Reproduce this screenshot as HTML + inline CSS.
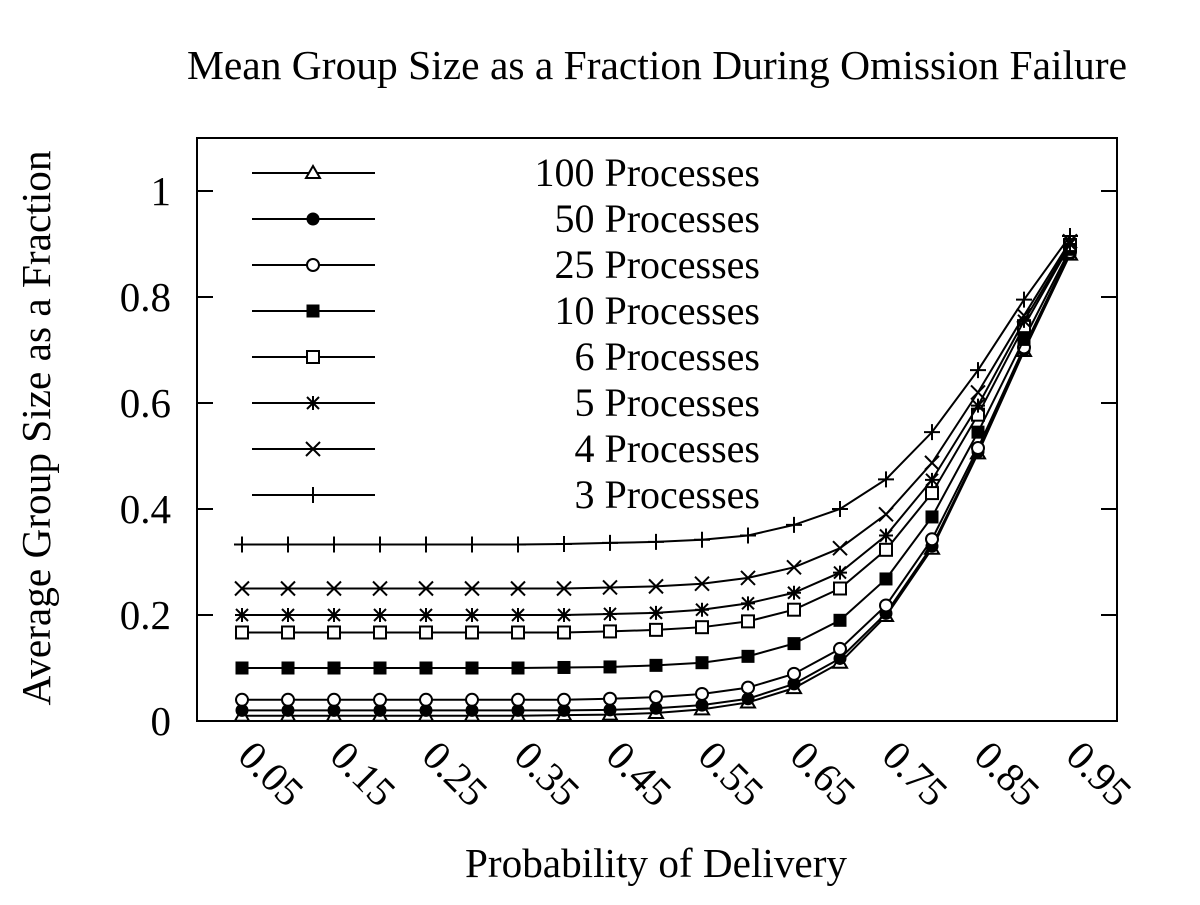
<!DOCTYPE html>
<html><head><meta charset="utf-8"><style>
html,body{margin:0;padding:0;background:#fff}
svg text{font-family:"Liberation Serif",serif;fill:#000}
</style></head><body>
<svg id="chart" width="1200" height="900" viewBox="0 0 1200 900" xmlns="http://www.w3.org/2000/svg">
<text x="187" y="79" font-size="41" textLength="940" lengthAdjust="spacingAndGlyphs">Mean Group Size as a Fraction During Omission Failure</text>
<text transform="translate(50,428) rotate(-90)" font-size="41" text-anchor="middle" textLength="555" lengthAdjust="spacingAndGlyphs">Average Group Size as a Fraction</text>
<text x="465" y="877" font-size="41" textLength="382" lengthAdjust="spacingAndGlyphs">Probability of Delivery</text>
<rect x="197" y="138" width="920" height="583" fill="none" stroke="#000" stroke-width="2"/>
<g id="axes"></g><g id="series"></g><g id="legend"></g>
</svg>
<script>
const xValues=[0.05,0.1,0.15,0.2,0.25,0.3,0.35,0.4,0.45,0.5,0.55,0.6,0.65,0.7,0.75,0.8,0.85,0.9,0.95];
const xTickLabels=["0.05","0.15","0.25","0.35","0.45","0.55","0.65","0.75","0.85","0.95"];
const yTickValues=[0,0.2,0.4,0.6,0.8,1];
const yTickLabels=["0","0.2","0.4","0.6","0.8","1"];
const seriesNames=["100 Processes","50 Processes","25 Processes","10 Processes","6 Processes","5 Processes","4 Processes","3 Processes"];
const markers=["triangle","circleFill","circle","squareFill","square","star","cross","plus"];
const s100=[0.01,0.01,0.01,0.01,0.01,0.01,0.01,0.011,0.012,0.015,0.022,0.035,0.062,0.11,0.198,0.325,0.505,0.698,0.88];
const s50=[0.02,0.02,0.02,0.02,0.02,0.02,0.02,0.02,0.021,0.024,0.03,0.042,0.07,0.118,0.203,0.33,0.508,0.7,0.882];
const s25=[0.04,0.04,0.04,0.04,0.04,0.04,0.04,0.04,0.042,0.045,0.051,0.063,0.089,0.136,0.218,0.343,0.515,0.705,0.885];
const s10=[0.1,0.1,0.1,0.1,0.1,0.1,0.1,0.101,0.102,0.105,0.11,0.122,0.146,0.19,0.268,0.385,0.545,0.72,0.89];
const s6=[0.167,0.167,0.167,0.167,0.167,0.167,0.167,0.167,0.169,0.172,0.177,0.188,0.21,0.25,0.323,0.43,0.578,0.745,0.898];
const s5=[0.2,0.2,0.2,0.2,0.2,0.2,0.2,0.2,0.202,0.204,0.21,0.222,0.242,0.28,0.35,0.455,0.595,0.755,0.9];
const s4=[0.25,0.25,0.25,0.25,0.25,0.25,0.25,0.25,0.252,0.254,0.259,0.27,0.29,0.326,0.39,0.487,0.62,0.765,0.905];
const s3=[0.333,0.333,0.333,0.333,0.333,0.333,0.333,0.334,0.336,0.338,0.342,0.35,0.37,0.40,0.456,0.545,0.662,0.795,0.915];
const allSeries=[s100,s50,s25,s10,s6,s5,s4,s3];

const NS="http://www.w3.org/2000/svg";
const X=v=>196+v*920;
const Y=v=>721-v*530;
function mk(tag,attrs,parent){const e=document.createElementNS(NS,tag);for(const k in attrs)e.setAttribute(k,attrs[k]);parent.appendChild(e);return e;}
const axes=document.getElementById('axes'),ser=document.getElementById('series'),leg=document.getElementById('legend');

yTickValues.forEach((v,i)=>{
  const y=Y(v);
  const t1=mk('line',{x1:197,x2:213,y1:y,y2:y,stroke:'#000','stroke-width':2},axes);
  
  
  const t2=mk('line',{x1:1101,x2:1117,y1:y,y2:y,stroke:'#000','stroke-width':2},axes);
  
  
  const tx=mk('text',{x:171,y:y+14,'font-size':41,'text-anchor':'end'},axes);
  tx.textContent=yTickLabels[i];
  
  
});
xTickLabels.forEach(l=>{
  const x=X(parseFloat(l));
  const tx=mk('text',{transform:`translate(${x-6},${758}) rotate(45)`,'font-size':41},axes);
  tx.textContent=l;
  
  
});

function marker(type,x,y,g){
  const st={stroke:'#000','stroke-width':2};
  let e;
  if(type==='triangle'){e=mk('polygon',Object.assign({points:`${x},${y-7} ${x-7},${y+5} ${x+7},${y+5}`,fill:'#fff'},st),g);}
  else if(type==='circleFill'){e=mk('circle',{cx:x,cy:y,r:6.5,fill:'#000'},g);}
  else if(type==='circle'){e=mk('circle',Object.assign({cx:x,cy:y,r:6,fill:'#fff'},st),g);}
  else if(type==='squareFill'){e=mk('rect',{x:x-6.5,y:y-6.5,width:13,height:13,fill:'#000'},g);}
  else if(type==='square'){e=mk('rect',Object.assign({x:x-6,y:y-6,width:12,height:12,fill:'#fff'},st),g);}
  else if(type==='star'){e=mk('path',Object.assign({d:`M${x-7},${y}H${x+7}M${x},${y-7}V${y+7}M${x-6},${y-6}L${x+6},${y+6}M${x-6},${y+6}L${x+6},${y-6}`},st),g);}
  else if(type==='cross'){e=mk('path',Object.assign({d:`M${x-7},${y-7}L${x+7},${y+7}M${x-7},${y+7}L${x+7},${y-7}`},st),g);}
  else {e=mk('path',Object.assign({d:`M${x-8},${y}H${x+8}M${x},${y-8}V${y+8}`},st),g);}
  
  
}

allSeries.forEach((vals,si)=>{
  const g=mk('g',{},ser);
  
  
  const d=vals.map((v,i)=>(i?'L':'M')+X(xValues[i])+','+Y(v)).join('');
  const p=mk('path',{d:d,fill:'none',stroke:'#000','stroke-width':2},g);
  
  
  vals.forEach((v,i)=>marker(markers[si],X(xValues[i]),Y(v),g));
  const ly=173+si*46;
  const lg=mk('g',{},leg);
  
  
  mk('line',{x1:252,x2:375,y1:ly,y2:ly,stroke:'#000','stroke-width':2},lg);
  marker(markers[si],313,ly,lg);
  const t=mk('text',{x:760,y:ly+13,'font-size':40,'text-anchor':'end'},lg);
  t.textContent=seriesNames[si];
  
  
});
</script>
</body></html>
